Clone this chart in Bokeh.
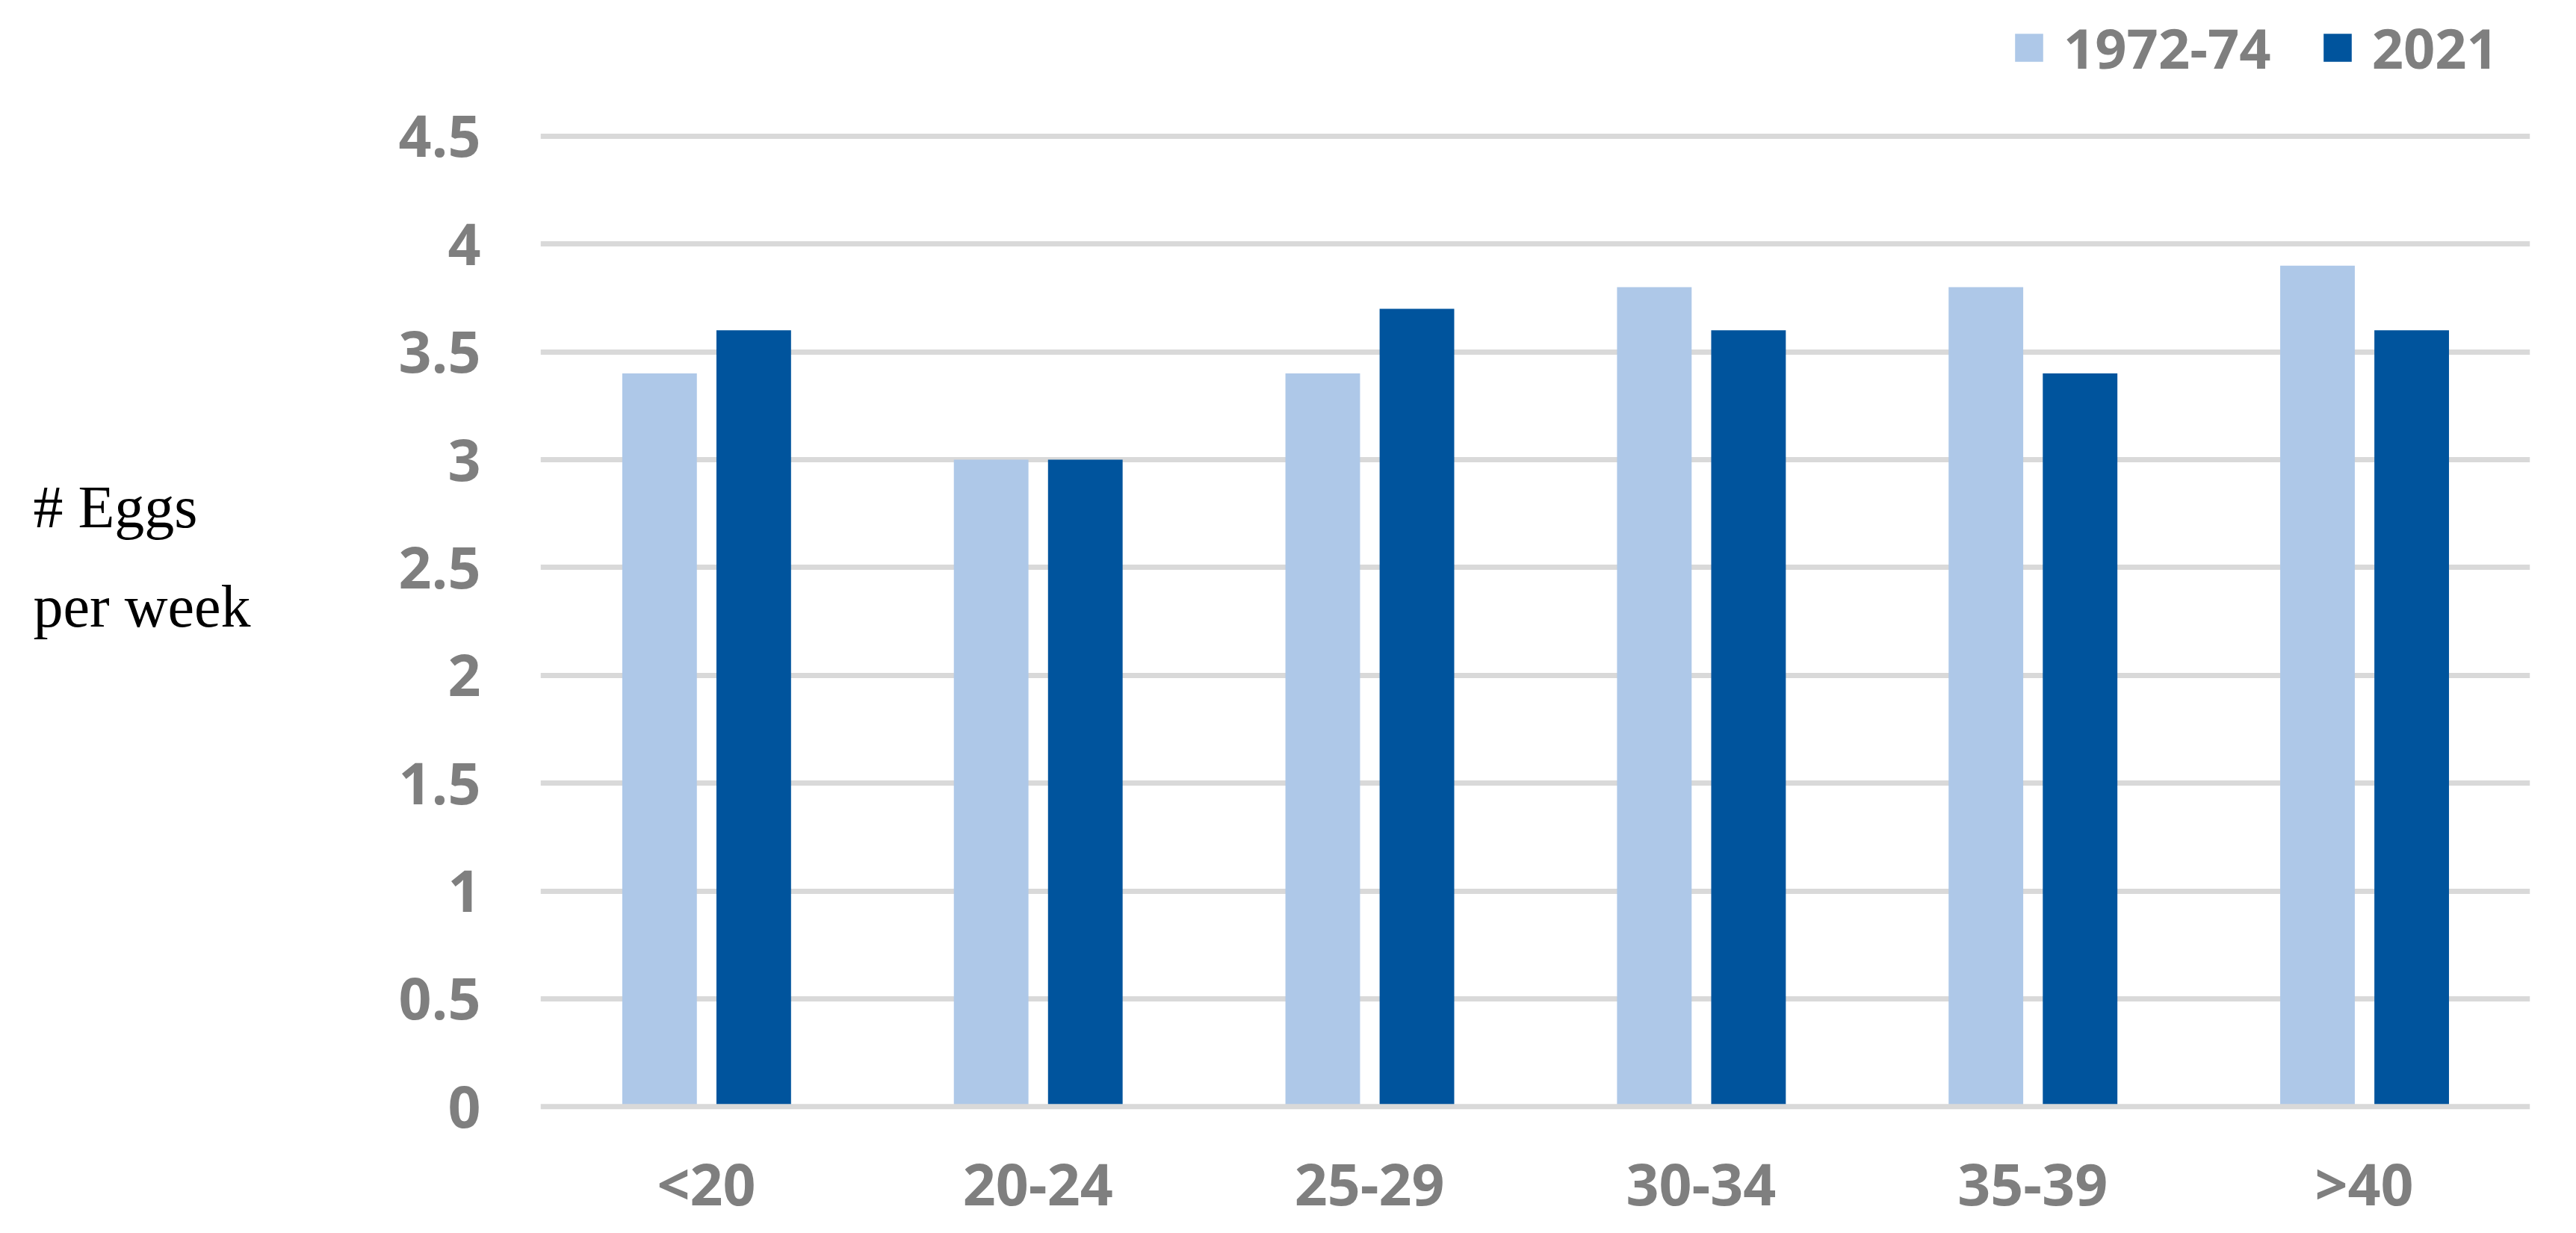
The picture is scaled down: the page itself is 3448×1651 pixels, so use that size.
from bokeh.plotting import figure
from bokeh.layouts import row
from bokeh.models import (FactorRange, Range1d, FixedTicker, Legend, LegendItem,
                          Span, ColumnDataSource)
from bokeh.core.properties import value
from bokeh.transform import dodge
from bokeh.embed import file_html
from bokeh.resources import INLINE

categories = ["<20", "20-24", "25-29", "30-34", "35-39", ">40"]
vals_1972_74 = [3.4, 3.0, 3.4, 3.8, 3.8, 3.9]
vals_2021 = [3.6, 3.0, 3.7, 3.6, 3.4, 3.6]
series_names = ["1972-74", "2021"]
y_ticks = [0, 0.5, 1, 1.5, 2, 2.5, 3, 3.5, 4, 4.5]
y_tick_labels = ["0", "0.5", "1", "1.5", "2", "2.5", "3", "3.5", "4", "4.5"]
y_title_lines = ["# Eggs", "per week"]

LIGHT = "#AEC8E8"
DARK = "#00549D"
GRID = "#D9D9D9"
TXT = "#7F7F7F"
FS = "77px"

src = ColumnDataSource(dict(cat=categories, a=vals_1972_74, b=vals_2021))
# range extends above 4.5 to leave room for the legend inside the frame
yr = Range1d(-0.03, 5.13)

p = figure(x_range=FactorRange(*categories), y_range=yr,
           frame_width=2663, frame_height=1490, output_backend="svg",
           toolbar_location=None,
           min_border_left=343, min_border_right=46, min_border_top=0,
           min_border_bottom=0)
p.outline_line_color = None

r1 = p.vbar(x=dodge("cat", -0.141, range=p.x_range), top="a", bottom=0, width=0.225,
            source=src, fill_color=LIGHT, line_color=None)
r2 = p.vbar(x=dodge("cat", 0.143, range=p.x_range), top="b", bottom=0, width=0.225,
            source=src, fill_color=DARK, line_color=None)

p.xgrid.grid_line_color = None
p.ygrid.ticker = FixedTicker(ticks=[t for t in y_ticks if t != 0])
p.ygrid.grid_line_color = GRID
p.ygrid.grid_line_width = 7
p.add_layout(Span(location=0, dimension="width", line_color=GRID, line_width=7,
                  level="overlay"))

for ax in (p.xaxis[0], p.yaxis[0]):
    ax.axis_line_color = None
    ax.major_tick_line_color = None
    ax.minor_tick_line_color = None
    ax.major_tick_out = 0
    ax.major_tick_in = 0
    ax.minor_tick_out = 0
    ax.major_label_text_font = "Open Sans"
    ax.major_label_text_font_style = "bold"
    ax.major_label_text_font_size = FS
    ax.major_label_text_color = TXT
p.yaxis[0].ticker = FixedTicker(ticks=y_ticks)
p.yaxis[0].major_label_overrides = {t: l for t, l in zip(y_ticks, y_tick_labels)}
p.yaxis[0].major_label_standoff = 80
p.xaxis[0].major_label_standoff = 41

legend = Legend(items=[LegendItem(label=series_names[0], renderers=[r1]),
                       LegendItem(label=series_names[1], renderers=[r2])],
                orientation="horizontal", location=(1969, 1376))
legend.glyph_width = 47
legend.glyph_height = 47
legend.label_standoff = 23
legend.spacing = 65
legend.padding = 0
legend.margin = 0
legend.border_line_color = None
legend.background_fill_alpha = 0
legend.label_text_font = "Open Sans"
legend.label_text_font_style = "bold"
legend.label_text_font_size = "74px"
legend.label_text_color = TXT
p.add_layout(legend, "center")

# left panel holding the two-line y title
t = figure(x_range=Range1d(0, 380), y_range=yr, frame_width=380, frame_height=1490,
           output_backend="svg", toolbar_location=None,
           x_axis_location=None, y_axis_location=None,
           min_border_left=0, min_border_right=0, min_border_top=0,
           min_border_bottom=0)
t.outline_line_color = None
t.xgrid.visible = False
t.ygrid.visible = False
t.text(x=[44, 44], y=[2.782, 2.318], text=y_title_lines,
       text_font=value("Liberation Serif"), text_font_size="80px",
       text_color="black", text_baseline="alphabetic", text_align="left")

layout = row(t, p)
open("out.html", "w").write(file_html(layout, INLINE))
